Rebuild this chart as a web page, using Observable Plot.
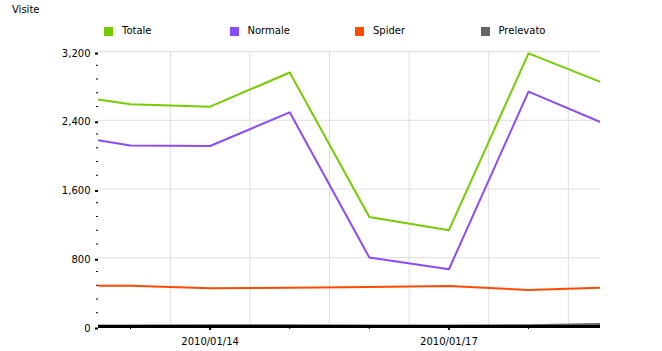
<!DOCTYPE html>
<html><head><meta charset="utf-8">
<script src="https://cdn.jsdelivr.net/npm/d3@7"></script>
<script src="https://cdn.jsdelivr.net/npm/@observablehq/plot@0.6"></script>
<style>
body{margin:0;background:#fff;font-family:"DejaVu Sans",sans-serif;font-size:10px;color:#000;}
#wrap{position:relative;width:662px;height:351px;overflow:hidden;background:#fff;}
#head{position:relative;height:45px;}
.title{position:absolute;left:12px;top:5px;line-height:10px;}
.item{position:absolute;top:27px;height:10px;line-height:10px;}
.sw{position:absolute;left:0;top:0;width:9px;height:9px;}
.lab{position:absolute;left:18px;top:-1px;white-space:nowrap;}
#chart svg{display:block;}
</style></head><body>
<div id="wrap"><div id="head"></div><div id="chart"></div></div>
<script>
// ---- data ----
const dates = ["2010-01-12","2010-01-13","2010-01-14","2010-01-15","2010-01-16","2010-01-17","2010-01-18","2010-01-19"];
const totale    = [2722, 2585, 2558, 2956, 1273, 1121, 3178, 2811];
const normale   = [2253, 2106, 2100, 2492,  803,  666, 2734, 2341];
const spider    = [ 473,  473,  446,  450,  461,  471,  424,  455];
const prelevato = [  12,   12,   15,   16,   12,   12,   16,   30];
const seriesNames  = ["Totale", "Normale", "Spider", "Prelevato"];
const seriesColors = ["#77cc00", "#8a4bff", "#ff4a00", "#666666"];
const yTicks = [0, 800, 1600, 2400, 3200];
const yMinorStep = 160;
const xLabelDates = ["2010-01-14", "2010-01-17"];
const xViewStart = "2010-01-12T14:21Z";
const xViewEnd   = "2010-01-18T21:42Z";
const titleText = "Visite";

// ---- build ----
const parse = s => new Date(s.length === 10 ? s + "T00:00Z" : s);
const seriesValues = {Totale: totale, Normale: normale, Spider: spider, Prelevato: prelevato};
const drawOrder = ["Prelevato", "Spider", "Normale", "Totale"];
const rows = drawOrder.flatMap(name => dates.map((d, i) => ({date: parse(d), value: seriesValues[name][i], series: name})));
const x0 = parse(xViewStart), x1 = parse(xViewEnd);
const inView = d => d >= x0 && d <= x1;
const dayDates = dates.map(parse);
const gridDates = dayDates.map(d => new Date(+d + 12 * 3600e3)).filter(inView);
const majorX = xLabelDates.map(parse);
const minorX = dayDates.filter(d => inView(d) && !majorX.some(m => +m === +d));
const yMinor = d3.range(0, yTicks[yTicks.length - 1] + 1, yMinorStep).filter(v => !yTicks.includes(v));

// header (title + legend)
const head = document.getElementById("head");
const t = document.createElement("div"); t.className = "title"; t.textContent = titleText; head.appendChild(t);
seriesNames.forEach((name, i) => {
  const it = document.createElement("div"); it.className = "item"; it.style.left = (104 + i * 125.5) + "px";
  const sw = document.createElement("div"); sw.className = "sw"; sw.style.background = seriesColors[i];
  const lb = document.createElement("div"); lb.className = "lab"; lb.textContent = name;
  it.appendChild(sw); it.appendChild(lb); head.appendChild(it);
});

const chart = Plot.plot({
  width: 662, height: 306,
  marginLeft: 98, marginRight: 62, marginTop: 6, marginBottom: 25,
  style: {fontFamily: "DejaVu Sans", fontSize: "10px", color: "#000", background: "#fff", overflow: "visible"},
  x: {type: "utc", domain: [x0, x1]},
  y: {domain: [yTicks[0], yTicks[yTicks.length - 1]]},
  color: {domain: seriesNames, range: seriesColors},
  marks: [
    Plot.ruleY(yTicks.filter(v => v > 0), {stroke: "#dedede", strokeWidth: 1}),
    Plot.ruleX(gridDates, {stroke: "#dedede", strokeWidth: 1}),
    Plot.line(rows, {x: "date", y: "value", z: "series", stroke: "series", strokeWidth: 2, clip: true}),
    Plot.ruleY([0], {stroke: "#000", strokeWidth: 3}),
    Plot.axisY(yTicks, {tickSize: 3, strokeWidth: 2, tickPadding: 5, tickFormat: d3.format(","), dy: 2, label: null}),
    Plot.axisY(yMinor, {tickSize: 2, strokeWidth: 1, fill: "none", label: null}),
    Plot.axisX(majorX, {tickSize: 4, strokeWidth: 2, tickPadding: 7, tickFormat: d3.utcFormat("%Y/%m/%d"), label: null}),
    Plot.axisX(minorX, {tickSize: 3, strokeWidth: 1, fill: "none", label: null})
  ]
});
document.getElementById("chart").appendChild(chart);
</script>
</body></html>
